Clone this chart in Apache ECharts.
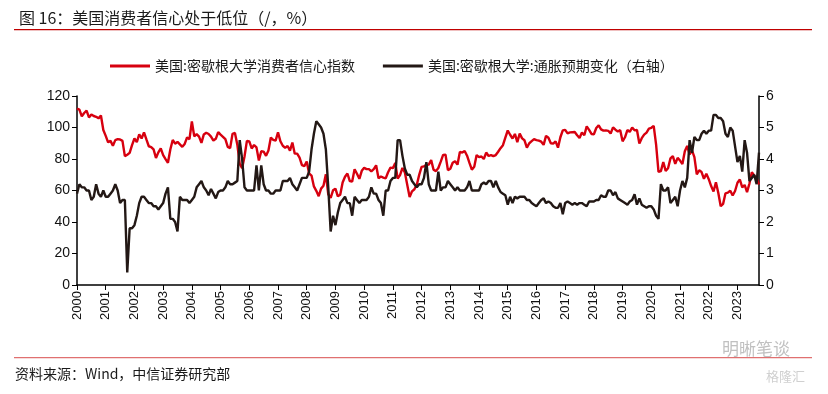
<!DOCTYPE html>
<html><head><meta charset="utf-8">
<script src="https://cdn.jsdelivr.net/npm/echarts@6/dist/echarts.min.js"></script>
<style>html,body{margin:0;padding:0;background:#fff}#c{width:828px;height:394px}</style>
</head><body><div id="c"></div>
<script>
const startYear = 2000;
const endYear = 2023;
const endMonth = 10;
const titleText = '图 16：美国消费者信心处于低位（/，%）';
const sourceText = '资料来源：Wind，中信证券研究部';
const seriesNames = ['美国:密歇根大学消费者信心指数', '美国:密歇根大学:通胀预期变化（右轴）'];
const leftTicks = {min: 0, max: 120, interval: 20};
const rightTicks = {min: 0, max: 6, interval: 1};

const sentiment = [
112.0,111.3,107.1,109.2,110.7,106.4,108.3,107.3,106.8,105.8,107.6,98.4,
94.7,90.6,91.5,88.4,92.0,92.6,92.4,91.5,81.8,82.7,83.9,88.8,
93.0,90.7,95.7,93.0,96.9,92.4,88.1,87.6,86.1,80.6,84.2,86.7,
82.4,79.9,77.6,86.0,92.1,89.7,90.9,89.3,87.7,89.6,93.7,92.6,
103.8,94.4,95.8,94.2,90.2,95.6,96.7,95.9,94.2,91.7,92.8,97.1,
95.5,94.1,92.6,87.7,86.9,96.0,96.5,89.1,76.9,74.2,81.6,91.5,
91.2,86.7,88.9,87.4,79.1,84.9,84.7,82.0,85.4,93.6,92.1,91.7,
96.9,91.3,88.4,87.1,88.3,85.3,90.4,83.4,83.4,80.9,76.1,75.5,
78.4,70.8,69.5,62.6,59.8,56.4,61.2,63.0,70.3,57.6,55.3,60.1,
61.2,56.3,57.3,65.1,68.7,70.8,66.0,65.7,73.5,70.6,67.4,72.5,
74.4,73.6,73.6,72.2,73.6,76.0,67.8,68.9,68.2,67.7,71.6,74.5,
74.2,77.5,67.5,69.8,74.3,71.5,63.7,55.8,59.5,60.8,63.7,69.9,
75.0,75.3,76.2,76.4,79.3,73.2,72.3,74.3,78.3,82.6,82.7,72.9,
73.8,77.6,78.6,76.4,84.5,84.1,85.1,82.1,77.5,73.2,75.1,82.5,
81.2,81.6,80.0,84.1,81.9,82.5,81.8,82.5,84.6,86.9,88.8,93.6,
98.1,95.4,93.0,95.9,90.7,96.1,93.1,91.9,87.2,90.0,91.3,92.6,
92.0,91.7,91.0,89.0,94.7,93.5,90.0,89.8,91.2,87.2,93.8,98.2,
98.5,96.3,96.9,97.0,97.1,95.1,93.4,96.8,95.1,100.7,98.5,95.9,
95.7,99.7,101.4,98.8,98.0,98.2,97.9,96.2,100.1,98.6,97.5,98.3,
91.2,93.8,98.4,97.2,100.0,98.2,98.4,89.8,93.2,95.5,96.8,99.3,
99.8,101.0,89.1,71.8,72.3,78.1,72.5,74.1,80.4,81.8,76.9,80.7,
79.0,76.8,84.9,88.3,82.9,85.5,81.2,70.3,72.8,71.7,67.4,70.6,
67.2,62.8,59.4,65.2,58.4,50.0,51.5,58.2,58.6,59.9,56.8,59.7,
64.9,67.0,62.0,63.5,59.0,64.4,71.6,69.5,67.9,63.8
];

const inflationExp = [
2.9,3.2,3.1,3.1,3.0,3.0,2.7,2.8,3.2,2.9,2.8,3.0,
2.8,2.8,2.9,3.0,3.2,3.0,2.6,2.7,2.7,0.4,1.8,1.8,
1.9,2.2,2.6,2.8,2.8,2.7,2.6,2.6,2.5,2.5,2.4,2.5,
2.6,2.9,3.1,2.1,2.1,2.0,1.7,2.8,2.7,2.7,2.7,2.6,
2.7,2.8,3.1,3.2,3.3,3.1,3.0,2.85,3.05,2.9,2.75,2.95,
3.0,3.0,3.1,3.3,3.2,3.2,3.25,3.3,4.6,4.0,3.1,3.0,
3.0,3.0,3.0,3.8,3.0,3.8,3.2,3.0,3.0,2.9,2.9,3.0,
3.0,3.0,3.3,3.3,3.3,3.4,3.2,3.1,3.0,3.2,3.4,3.4,
3.4,3.6,4.3,4.8,5.2,5.1,5.0,4.8,4.3,3.1,1.7,2.2,
1.9,2.3,2.6,2.7,2.8,2.6,2.6,2.2,2.8,2.7,2.6,2.7,
2.7,2.7,2.8,3.1,2.9,2.9,2.7,2.6,2.2,3.0,3.0,3.3,
3.4,3.4,4.6,4.6,4.1,3.7,3.5,3.5,3.3,3.2,3.1,3.2,
3.2,3.4,3.9,3.2,3.0,3.0,3.0,3.6,3.0,3.1,3.1,3.3,
3.2,3.1,3.0,3.1,3.0,3.0,3.0,3.1,3.3,3.0,3.0,3.0,
3.0,3.2,3.25,3.2,3.3,3.3,3.1,3.3,3.1,2.95,2.9,2.85,
2.55,2.8,2.6,2.8,2.75,2.8,2.8,2.8,2.7,2.7,2.6,2.55,
2.5,2.6,2.7,2.75,2.6,2.65,2.6,2.5,2.45,2.45,2.6,2.25,
2.6,2.65,2.6,2.55,2.6,2.55,2.6,2.6,2.55,2.5,2.65,2.65,
2.65,2.7,2.7,2.85,2.8,2.8,3.0,3.0,2.85,2.95,2.75,2.7,
2.65,2.6,2.55,2.65,2.7,2.88,2.55,2.75,2.55,2.5,2.45,2.5,
2.5,2.4,2.2,2.1,3.2,3.0,3.0,3.1,2.6,2.7,2.8,2.5,
3.0,3.3,3.1,3.4,4.6,4.2,4.7,4.6,4.6,4.8,4.9,4.8,
4.9,4.9,5.4,5.4,5.3,5.3,5.2,4.8,4.7,5.0,4.9,4.4,
3.9,4.1,3.6,4.6,4.2,3.3,3.4,3.5,3.2,4.2
];

const months = [];
for (let y = startYear; y <= endYear; y++) {
  const last = (y === endYear) ? endMonth : 12;
  for (let m = 1; m <= last; m++) months.push(y + '-' + (m < 10 ? '0' : '') + m);
}

const isJan = (i, v) => v.slice(5) === '01';
const RED = '#d7000f', BLACK = '#231815';
const axisFont = 'Liberation Sans, Arial, sans-serif';
const cjkFont = '"Noto Sans CJK SC", sans-serif';

const chart = echarts.init(document.getElementById('c'), null, {renderer: 'canvas'});
chart.setOption({
  animation: false,
  backgroundColor: '#fff',
  textStyle: {fontFamily: axisFont},
  title: {
    text: titleText, left: 14, top: 5,
    textStyle: {fontSize: 16, fontWeight: 'normal', color: '#1a1a1a', fontFamily: cjkFont}
  },
  graphic: [
    {type: 'rect', shape: {x: 14, y: 29, width: 798, height: 1.2}, style: {fill: '#c00000'}, silent: true},
    {type: 'rect', shape: {x: 14, y: 357, width: 798, height: 1.2}, style: {fill: '#e07070'}, silent: true},
    {type: 'text', left: 15, top: 367, style: {text: sourceText, fontSize: 14, fill: '#1a1a1a', fontFamily: cjkFont}},
    {type: 'text', left: 722, top: 340, style: {text: '明晰笔谈', fontSize: 17, fill: '#c0c0c0', fontFamily: cjkFont}},
    {type: 'text', left: 766, top: 370, style: {text: '格隆汇', fontSize: 13, fill: '#d0d0d0', fontFamily: cjkFont}}
  ],
  legend: {
    top: 54, left: 105,
    itemWidth: 40, itemHeight: 12, itemGap: 28,
    icon: 'path://M0,5 L40,5 L40,8 L0,8 Z',
    textStyle: {fontSize: 14, color: '#1a1a1a', fontFamily: cjkFont},
    data: seriesNames
  },
  grid: {left: 77, right: 69, top: 96, bottom: 109, containLabel: false},
  xAxis: {
    type: 'category', data: months, boundaryGap: false,
    axisLine: {lineStyle: {color: '#000', width: 1.5}},
    axisTick: {interval: isJan, length: 5, lineStyle: {color: '#000'}},
    axisLabel: {interval: isJan, rotate: 90, formatter: v => v.slice(0, 4), fontSize: 13, color: '#111', margin: 6, fontFamily: axisFont},
    splitLine: {show: false}
  },
  yAxis: [
    {type: 'value', min: leftTicks.min, max: leftTicks.max, interval: leftTicks.interval,
     axisLine: {show: true, lineStyle: {color: '#000', width: 1.5}},
     axisTick: {show: true, length: 5, lineStyle: {color: '#000'}},
     axisLabel: {fontSize: 14, color: '#111', margin: 7, fontFamily: axisFont},
     splitLine: {show: false}},
    {type: 'value', min: rightTicks.min, max: rightTicks.max, interval: rightTicks.interval,
     axisLine: {show: true, lineStyle: {color: '#000', width: 1.5}},
     axisTick: {show: true, length: 5, lineStyle: {color: '#000'}},
     axisLabel: {fontSize: 14, color: '#111', margin: 7, fontFamily: axisFont},
     splitLine: {show: false}}
  ],
  series: [
    {name: seriesNames[0], type: 'line', yAxisIndex: 0, data: sentiment, symbol: 'none',
     itemStyle: {color: RED}, lineStyle: {color: RED, width: 2.4}},
    {name: seriesNames[1], type: 'line', yAxisIndex: 1, data: inflationExp, symbol: 'none',
     itemStyle: {color: BLACK}, lineStyle: {color: BLACK, width: 2.4}}
  ]
});
</script></body></html>
